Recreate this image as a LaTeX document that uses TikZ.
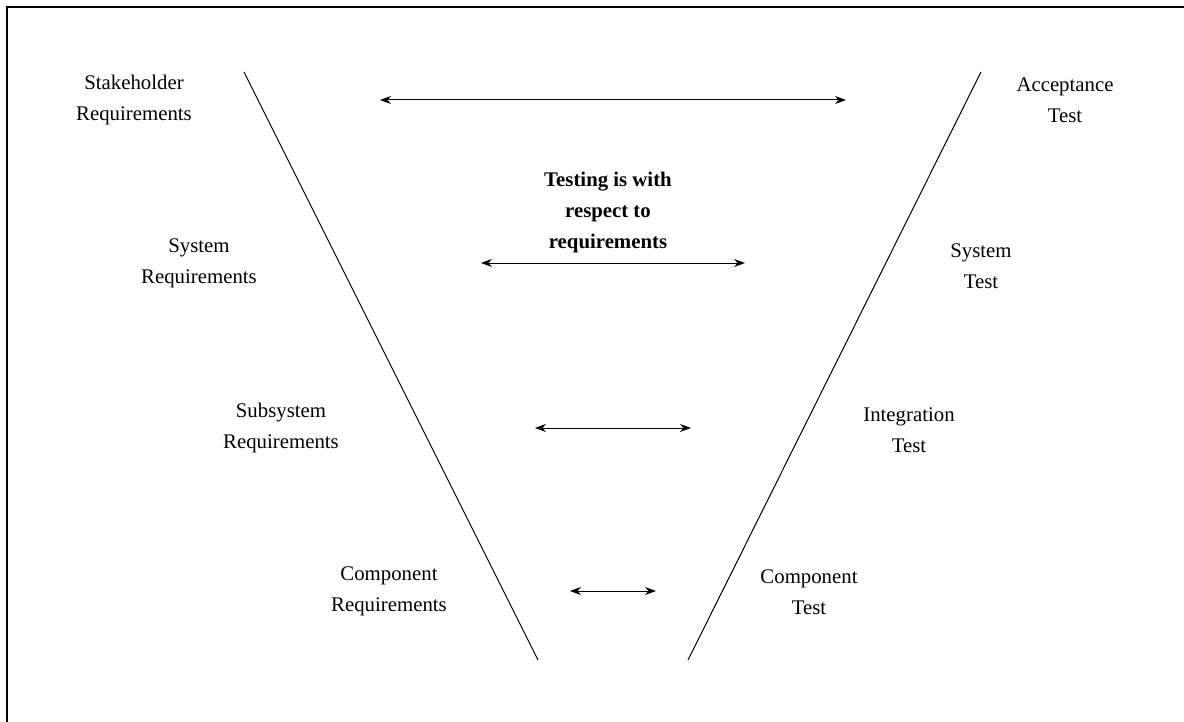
\documentclass[tikz,border=0pt]{standalone}
\usepackage{fontspec}
\setmainfont{Liberation Serif}
\usetikzlibrary{arrows.meta}
\tikzset{
  lbl/.style={align=center, inner sep=0pt, font=\fontsize{10.4pt}{12.5pt}\selectfont},
  vline/.style={line width=0.5pt},
  trace/.style={line width=0.5pt, {Stealth[length=5.5pt,width=4pt]}-{Stealth[length=5.5pt,width=4pt]}},
  frame/.style={line width=0.9pt}
}
\begin{document}
\begin{tikzpicture}[x=0.5pt,y=-0.5pt]
  \useasboundingbox (0,0) rectangle (1184,722);
  \clip (0,0) rectangle (1184,722);
  % outer frame (only top and left edges fall inside the page)
  \draw[frame] (7,740) -- (7,7) -- (1200,7);

  % the two arms of the V
  \coordinate (l1) at (244,72);
  \coordinate (l2) at (538,660);
  \coordinate (r1) at (981,72);
  \coordinate (r2) at (688,660);
  \draw[vline] (l1) -- (l2);
  \draw[vline] (r1) -- (r2);

  % left side: requirements
  \node[lbl] (sr)  at (134,100) {Stakeholder\\[3pt]Requirements};
  \node[lbl] (syr) at (199,263) {System\\[3pt]Requirements};
  \node[lbl] (ssr) at (281,428) {Subsystem\\[3pt]Requirements};
  \node[lbl] (cr)  at (389,591) {Component\\[3pt]Requirements};

  % right side: tests
  \node[lbl] (at)  at (1065,100) {Acceptance\\[3pt]Test};
  \node[lbl] (st)  at (981,266) {System\\[3pt]Test};
  \node[lbl] (it)  at (909,430) {Integration\\[3pt]Test};
  \node[lbl] (ct)  at (809,592) {Component\\[3pt]Test};

  % centre note
  \node[lbl, font=\fontsize{10.4pt}{12.5pt}\selectfont\bfseries] (note) at (608,212) {Testing is with\\[3pt]respect to\\[3pt]requirements};

  % traceability arrows
  \coordinate (a1l) at (380,100);  \coordinate (a1r) at (846,100);
  \coordinate (a2l) at (481,263);  \coordinate (a2r) at (745,263);
  \coordinate (a3l) at (535,428);  \coordinate (a3r) at (691,428);
  \coordinate (a4l) at (570,591);  \coordinate (a4r) at (656,591);
  \draw[trace] (a1l) -- (a1r);
  \draw[trace] (a2l) -- (a2r);
  \draw[trace] (a3l) -- (a3r);
  \draw[trace] (a4l) -- (a4r);
\end{tikzpicture}
\end{document}
